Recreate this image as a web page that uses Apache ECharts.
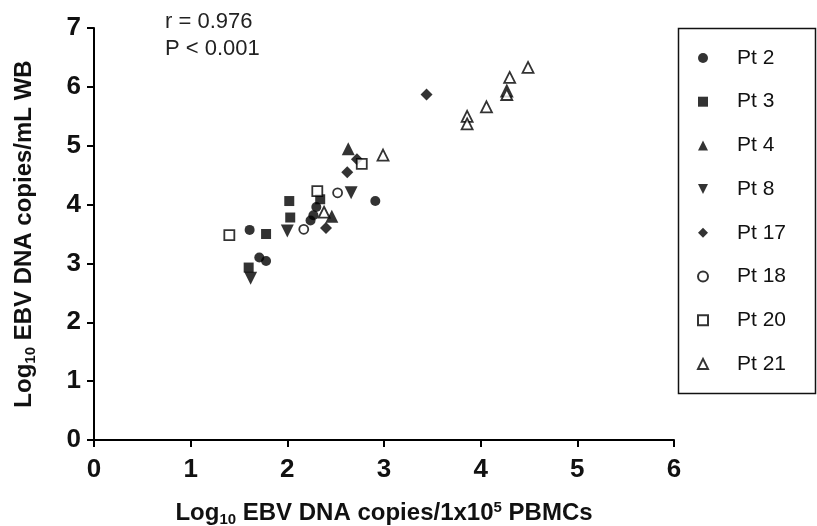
<!DOCTYPE html>
<html>
<head>
<meta charset="utf-8">
<script src="https://cdn.jsdelivr.net/npm/echarts@6/dist/echarts.min.js"></script>
<style>html,body{margin:0;padding:0;background:#fff;}#c{width:817px;height:526px;}</style>
</head>
<body>
<div id="c"></div>
<script>
// Data (x: log10 copies/1e5 PBMCs, y: log10 copies/mL WB)
const pt2  = [[1.61,3.57],[1.71,3.10],[1.78,3.04],[2.24,3.73],[2.27,3.82],[2.30,3.96],[2.91,4.06]];
const pt3  = [[1.60,2.93],[1.78,3.50],[2.02,4.06],[2.03,3.78],[2.34,4.09]];
const pt4  = [[2.46,3.80],[2.63,4.95]];
const pt8  = [[1.62,2.75],[2.00,3.55],[2.66,4.20]];
const pt17 = [[2.40,3.60],[2.62,4.55],[2.72,4.77],[3.44,5.87]];
const pt18 = [[2.17,3.58],[2.52,4.20]];
const pt20 = [[1.40,3.48],[2.31,4.23],[2.77,4.69]];
const pt21 = [[2.38,3.87],[2.99,4.84],[3.86,5.50],[3.86,5.37],[4.06,5.66],[4.27,5.93],[4.27,5.87],[4.30,6.16],[4.49,6.33]];
const seriesNames = ['Pt 2','Pt 3','Pt 4','Pt 8','Pt 17','Pt 18','Pt 20','Pt 21'];
const xTicks = [0,1,2,3,4,5,6];
const yTicks = [0,1,2,3,4,5,6,7];
const statsText = ['r = 0.976','P < 0.001'];

const F = 'Liberation Sans, Arial, sans-serif';
const DOWN = 'path://M0,0L10,0L5,10Z';
const chart = echarts.init(document.getElementById('c'));

function filled(name, data, symbol, size) {
  return { name, type:'scatter', data, symbol, symbolSize:size,
    itemStyle:{color:'#000'}, emphasis:{disabled:true} };
}
function open(name, data, symbol, size) {
  return { name, type:'scatter', data, symbol, symbolSize:size,
    itemStyle:{color:'#fff', borderColor:'#000', borderWidth:1.8}, emphasis:{disabled:true} };
}
const legendIcons = ['circle','rect','triangle',DOWN,'diamond','circle','rect','triangle'];

chart.setOption({
  animation:false,
  backgroundColor:'#fff',
  grid:{left:94, right:143, top:28, bottom:86, containLabel:false, outerBoundsMode:'none'},
  xAxis:{
    type:'value', min:xTicks[0], max:xTicks[xTicks.length-1], interval:1,
    splitLine:{show:false},
    axisLine:{lineStyle:{color:'#000', width:2}},
    axisTick:{length:7, lineStyle:{color:'#000', width:2}},
    axisLabel:{color:'#111', fontFamily:F, fontWeight:'bold', fontSize:26, margin:17},
    name:'{a|Log}{s|10}{a| EBV DNA copies/1x10}{p|5}{a| PBMCs}',
    nameLocation:'middle', nameGap:60,
    nameTextStyle:{ rich:{
      a:{fontFamily:F, fontWeight:'bold', fontSize:24, color:'#111'},
      s:{fontFamily:F, fontWeight:'bold', fontSize:15, color:'#111', padding:[12,0,0,0]},
      p:{fontFamily:F, fontWeight:'bold', fontSize:15, color:'#111', padding:[0,0,11,0]}
    }}
  },
  yAxis:{
    type:'value', min:yTicks[0], max:yTicks[yTicks.length-1], interval:1,
    splitLine:{show:false},
    axisLine:{lineStyle:{color:'#000', width:2}},
    axisTick:{length:7, lineStyle:{color:'#000', width:2}},
    axisLabel:{color:'#111', fontFamily:F, fontWeight:'bold', fontSize:26, margin:13},
    name:'{a|Log}{s|10}{a| EBV DNA copies/mL WB}',
    nameLocation:'middle', nameGap:56,
    nameTextStyle:{ rich:{
      a:{fontFamily:F, fontWeight:'bold', fontSize:24, color:'#111'},
      s:{fontFamily:F, fontWeight:'bold', fontSize:15, color:'#111', padding:[12,0,0,0]}
    }}
  },
  legend:{
    orient:'vertical', left:692, top:41,
    itemWidth:10, itemHeight:10, itemGap:19.7,
    data:seriesNames.map((n,i)=>({name:n, icon:legendIcons[i]})),
    textStyle:{fontFamily:F, fontSize:21, color:'#111', lineHeight:24, padding:[0,0,0,24]},
    selectedMode:false
  },
  graphic:[
    {type:'rect', shape:{x:678.5, y:28.5, width:137, height:365}, style:{fill:'none', stroke:'#111', lineWidth:1.5}},
    {type:'text', left:165, top:11, style:{text:statsText[0], font:'22px '+F, fill:'#222'}},
    {type:'text', left:165, top:38, style:{text:statsText[1], font:'22px '+F, fill:'#222'}}
  ],
  series:[
    filled(seriesNames[0], pt2, 'circle', 10),
    filled(seriesNames[1], pt3, 'rect', 10),
    filled(seriesNames[2], pt4, 'triangle', 13),
    filled(seriesNames[3], pt8, DOWN, 13),
    filled(seriesNames[4], pt17, 'diamond', 12),
    open(seriesNames[5], pt18, 'circle', 9),
    open(seriesNames[6], pt20, 'rect', 10),
    open(seriesNames[7], pt21, 'triangle', 11)
  ]
});
</script>
</body>
</html>
